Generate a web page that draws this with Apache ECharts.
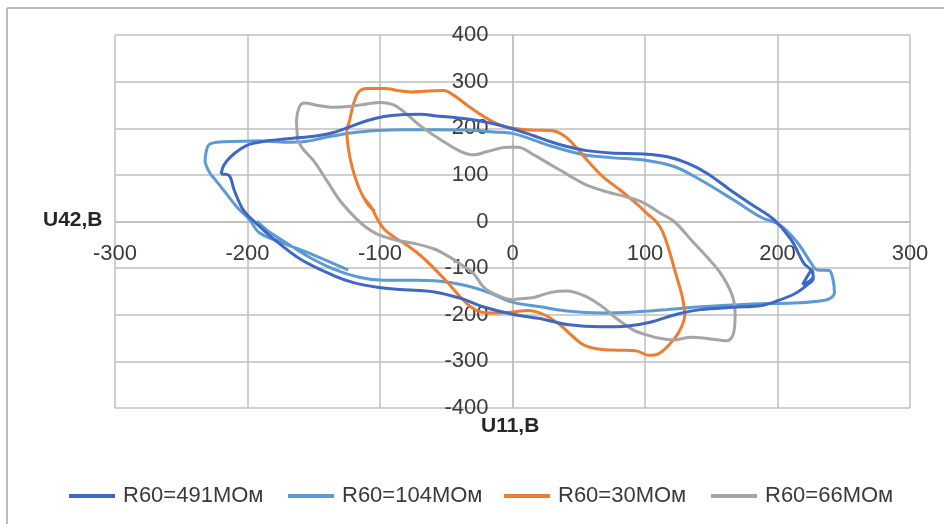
<!DOCTYPE html>
<html>
<head>
<meta charset="utf-8">
<script src="https://cdn.jsdelivr.net/npm/echarts@6/dist/echarts.min.js"></script>
<style>
html,body{margin:0;padding:0;background:#fff;}
#chart{width:944px;height:524px;}
</style>
</head>
<body>
<div id="chart"></div>
<script>
// ---- data (U11, U42 pairs in volts) ----
const seriesNames = ['R60=491МОм', 'R60=104МОм', 'R60=30МОм', 'R60=66МОм'];
const xTicks = [-300, -200, -100, 0, 100, 200, 300];
const yTicks = [-400, -300, -200, -100, 0, 100, 200, 300, 400];

const r491 = [
  [-220,102],[-218,120],[-213,138],[-205,156],[-198,166],[-185,173],[-172,177],[-160,180],
  [-147,184],[-135,191],[-122,204],[-110,216],[-97,225],[-84,229],[-69,230],[-59,227],
  [-34,220],[-15,210],[0,199],[16,184],[30,170],[41,161],[56,152],[74,147],[99,145],
  [117,139],[132,125],[147,103],[167,62],[184,30],[197,5],[210,-38],[220,-90],[225,-103],
  [227,-118],[224,-128],[219,-135],[222,-120],[226,-104],[227,-122],[222,-137],[213,-155],
  [200,-170],[188,-180],[167,-184],[142,-189],[124,-199],[104,-216],[87,-224],[67,-226],
  [41,-221],[24,-210],[0,-199],[-21,-184],[-39,-165],[-59,-151],[-84,-146],[-102,-141],
  [-120,-131],[-135,-116],[-160,-81],[-180,-38],[-193,-5],[-203,24],[-210,67],[-214,99],[-220,102]
];

const r104 = [
  [-124,-104],[-150,-72],[-175,-44],[-191,-24],[-199,6],[-208,31],[-218,67],[-225,92],
  [-228,102],[-232,131],[-231,152],[-229,165],[-223,170],[-205,172],[-193,173],[-170,170],
  [-155,172],[-140,181],[-122,190],[-102,195],[-84,197],[-59,197],[-34,196],[-14,192],
  [0,189],[29,162],[54,143],[74,137],[99,132],[122,118],[142,89],[167,46],[187,10],
  [202,-8],[215,-45],[226,-92],[230,-104],[239,-105],[242,-127],[243,-152],[239,-166],
  [230,-171],[213,-175],[192,-176],[167,-179],[142,-183],[117,-189],[92,-194],[67,-196],
  [41,-192],[21,-183],[0,-173],[-21,-149],[-47,-131],[-72,-126],[-97,-126],[-115,-120],
  [-135,-102],[-155,-74],[-175,-38],[-185,-19],[-193,1]
];

const r30 = [
  [-104,22],[-110,40],[-116,73],[-121,116],[-124,159],[-125,195],[-123,216],[-120,252],
  [-116,278],[-110,285],[-97,285],[-84,280],[-77,278],[-64,280],[-52,281],[-44,270],
  [-34,249],[-21,224],[-9,206],[0,200],[14,196],[29,195],[39,184],[49,156],[59,123],
  [69,94],[82,66],[94,37],[102,16],[108,1],[113,-20],[118,-60],[123,-110],[128,-160],
  [130,-200],[126,-235],[118,-265],[110,-284],[103,-287],[94,-278],[80,-276],[66,-274],
  [54,-265],[45,-245],[36,-222],[24,-200],[11,-191],[0,-194],[-14,-196],[-24,-194],
  [-31,-184],[-39,-163],[-49,-131],[-59,-101],[-69,-74],[-79,-52],[-89,-34],[-97,-16],
  [-102,5],[-106,28],[-112,50]
];

const r66 = [
  [-162,173],[-163,216],[-161,245],[-157,254],[-147,249],[-135,245],[-122,247],[-110,252],
  [-100,255],[-89,249],[-79,228],[-69,204],[-54,175],[-39,150],[-29,143],[-19,150],
  [-4,159],[4,159],[16,143],[31,118],[42,100],[56,78],[72,63],[87,52],[99,40],[112,17],
  [122,0],[135,-40],[148,-80],[158,-115],[166,-160],[168,-200],[167,-238],[162,-256],
  [147,-251],[135,-248],[122,-254],[110,-250],[100,-242],[92,-234],[79,-209],[67,-181],
  [54,-159],[41,-149],[29,-152],[16,-163],[4,-166],[0,-168],[-10,-160],[-21,-143],
  [-30,-110],[-40,-90],[-47,-77],[-59,-59],[-74,-47],[-89,-39],[-102,-27],[-112,-9],
  [-120,12],[-130,44],[-140,87],[-150,130],[-158,155],[-162,173]
];

const seriesData = [r491, r104, r30, r66];
const colors = ['#3F67C6', '#5B9BD5', '#ED7D31', '#A5A5A5'];
const legendLeft = [64, 283, 499, 706];

const FONT = '"Liberation Sans", Arial, sans-serif';
const chart = echarts.init(document.getElementById('chart'), null, {renderer: 'canvas'});
const gridColor = '#BFBFBF';

// grid geometry: axes cross at zero, which is the middle of the plot
const G = {left: 115, right: 34, top: 35, bottom: 116};
const plotW = 944 - G.left - G.right;
const plotH = 524 - G.top - G.bottom;

chart.setOption({
  animation: false,
  backgroundColor: '#ffffff',
  color: colors,
  grid: {left: G.left, right: G.right, top: G.top, bottom: G.bottom, containLabel: false},
  xAxis: {
    type: 'value', min: xTicks[0], max: xTicks[xTicks.length - 1], interval: 100,
    position: 'bottom', offset: -plotH / 2,
    axisLine: {show: true, onZero: false, lineStyle: {color: gridColor, width: 1.5}},
    axisTick: {show: false},
    axisLabel: {margin: 21, fontSize: 22, color: '#3A3A3A', fontFamily: FONT},
    splitLine: {show: true, lineStyle: {color: gridColor, width: 1.5}}
  },
  yAxis: {
    type: 'value', min: yTicks[0], max: yTicks[yTicks.length - 1], interval: 100,
    position: 'left', offset: -plotW / 2,
    axisLine: {show: true, onZero: false, lineStyle: {color: gridColor, width: 1.5}},
    axisTick: {show: false},
    axisLabel: {margin: 24, fontSize: 22, color: '#3A3A3A', fontFamily: FONT},
    splitLine: {show: true, lineStyle: {color: gridColor, width: 1.5}}
  },
  legend: seriesNames.map((name, i) => ({
    left: legendLeft[i], top: 480,
    itemWidth: 46, itemHeight: 4, itemGap: 0,
    icon: 'rect',
    textStyle: {fontSize: 22, color: '#3A3A3A', fontFamily: FONT, padding: [0, 0, 0, 3]},
    data: [name]
  })),
  graphic: [
    {type: 'line', shape: {x1: 7, y1: 8, x2: 944, y2: 8}, style: {stroke: '#A6A6A6', lineWidth: 1.5}, silent: true},
    {type: 'line', shape: {x1: 7, y1: 8, x2: 7, y2: 524}, style: {stroke: '#A6A6A6', lineWidth: 1.5}, silent: true},
    {type: 'text', left: 43, top: 210, style: {text: 'U42,В', font: 'bold 21px ' + FONT, fill: '#262626'}},
    {type: 'text', left: 481, top: 416, style: {text: 'U11,В', font: 'bold 21px ' + FONT, fill: '#262626'}}
  ],
  series: seriesNames.map((name, i) => ({
    name: name,
    type: 'line',
    data: seriesData[i],
    showSymbol: false,
    smooth: 0.35,
    lineStyle: {width: 3, color: colors[i]},
    itemStyle: {color: colors[i]},
    z: 3 + (i === 0 ? 1 : 0)
  }))
});
</script>
</body>
</html>
